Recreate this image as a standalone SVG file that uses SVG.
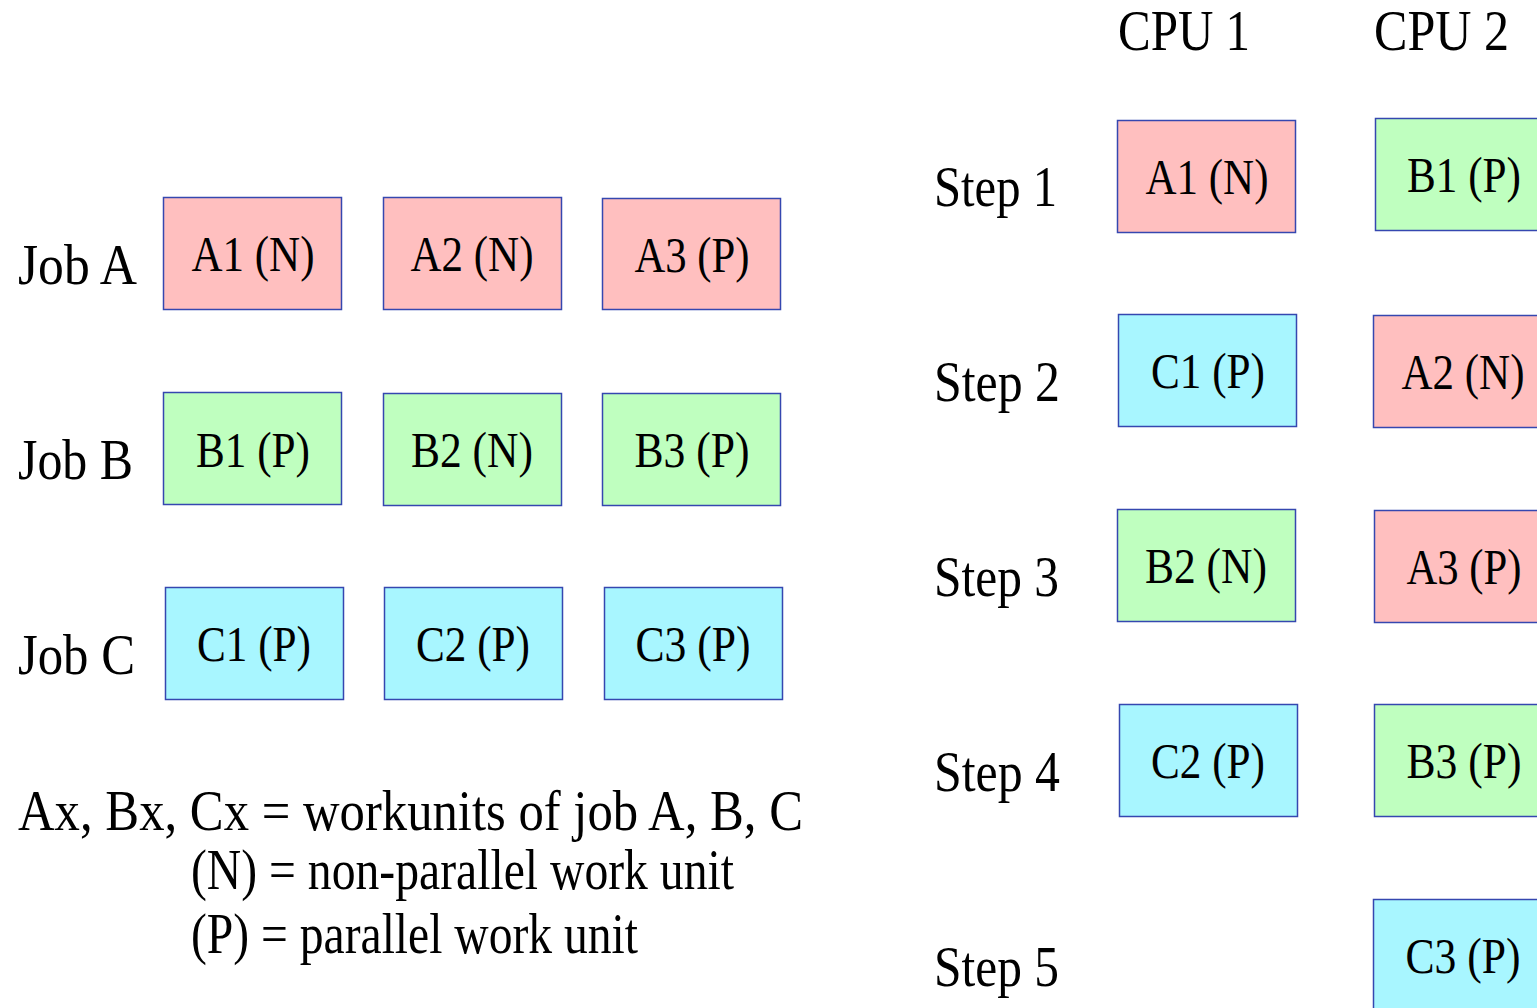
<svg xmlns="http://www.w3.org/2000/svg" width="1537" height="1008" viewBox="0 0 1537 1008">
<style>
.b{stroke:#3547b0;stroke-width:1.5}
.n{fill:#ffbfbf}.g{fill:#bfffbf}.c{fill:#a8f6ff}
text{font-family:"Liberation Serif","Times New Roman",serif;fill:#000}
.l{font-size:51px;text-anchor:middle}
.h{font-size:56px}
</style>
<rect width="1537" height="1008" fill="#fff"/>
<g id="labels">
<text class="h" x="18" y="284" textLength="119" lengthAdjust="spacingAndGlyphs">Job A</text>
<text class="h" x="18" y="479" textLength="115" lengthAdjust="spacingAndGlyphs">Job B</text>
<text class="h" x="18" y="674" textLength="117" lengthAdjust="spacingAndGlyphs">Job C</text>
<text class="h" x="1118" y="50" textLength="132" lengthAdjust="spacingAndGlyphs">CPU 1</text>
<text class="h" x="1374" y="50" textLength="135" lengthAdjust="spacingAndGlyphs">CPU 2</text>
<text class="h" x="934" y="206" textLength="123" lengthAdjust="spacingAndGlyphs">Step 1</text>
<text class="h" x="934" y="401" textLength="126" lengthAdjust="spacingAndGlyphs">Step 2</text>
<text class="h" x="934" y="596" textLength="125" lengthAdjust="spacingAndGlyphs">Step 3</text>
<text class="h" x="934" y="791" textLength="126" lengthAdjust="spacingAndGlyphs">Step 4</text>
<text class="h" x="934" y="986" textLength="125" lengthAdjust="spacingAndGlyphs">Step 5</text>
<text class="h" x="18" y="830" textLength="785" lengthAdjust="spacingAndGlyphs">Ax, Bx, Cx = workunits of job A, B, C</text>
<text class="h" x="191" y="889" textLength="543" lengthAdjust="spacingAndGlyphs">(N) = non-parallel work unit</text>
<text class="h" x="191" y="953" textLength="447" lengthAdjust="spacingAndGlyphs">(P) = parallel work unit</text>
</g>
<g id="jobA1"><rect class="b n" x="163.5" y="197.5" width="178" height="112"/><text class="l" x="253" y="271" textLength="123" lengthAdjust="spacingAndGlyphs">A1 (N)</text></g>
<g id="jobA2"><rect class="b n" x="383.5" y="197.5" width="178" height="112"/><text class="l" x="472" y="271" textLength="123" lengthAdjust="spacingAndGlyphs">A2 (N)</text></g>
<g id="jobA3"><rect class="b n" x="602.5" y="198.5" width="178" height="111"/><text class="l" x="692" y="272" textLength="115" lengthAdjust="spacingAndGlyphs">A3 (P)</text></g>
<g id="jobB1"><rect class="b g" x="163.5" y="392.5" width="178" height="112"/><text class="l" x="253" y="467" textLength="114" lengthAdjust="spacingAndGlyphs">B1 (P)</text></g>
<g id="jobB2"><rect class="b g" x="383.5" y="393.5" width="178" height="112"/><text class="l" x="472" y="467" textLength="122" lengthAdjust="spacingAndGlyphs">B2 (N)</text></g>
<g id="jobB3"><rect class="b g" x="602.5" y="393.5" width="178" height="112"/><text class="l" x="692" y="467" textLength="115" lengthAdjust="spacingAndGlyphs">B3 (P)</text></g>
<g id="jobC1"><rect class="b c" x="165.5" y="587.5" width="178" height="112"/><text class="l" x="254" y="661" textLength="114" lengthAdjust="spacingAndGlyphs">C1 (P)</text></g>
<g id="jobC2"><rect class="b c" x="384.5" y="587.5" width="178" height="112"/><text class="l" x="473" y="661" textLength="114" lengthAdjust="spacingAndGlyphs">C2 (P)</text></g>
<g id="jobC3"><rect class="b c" x="604.5" y="587.5" width="178" height="112"/><text class="l" x="693" y="661" textLength="115" lengthAdjust="spacingAndGlyphs">C3 (P)</text></g>
<g id="s1c1"><rect class="b n" x="1117.5" y="120.5" width="178" height="112"/><text class="l" x="1207" y="194" textLength="123" lengthAdjust="spacingAndGlyphs">A1 (N)</text></g>
<g id="s1c2"><rect class="b g" x="1375.5" y="118.5" width="178" height="112"/><text class="l" x="1464" y="192" textLength="114" lengthAdjust="spacingAndGlyphs">B1 (P)</text></g>
<g id="s2c1"><rect class="b c" x="1118.5" y="314.5" width="178" height="112"/><text class="l" x="1208" y="388" textLength="114" lengthAdjust="spacingAndGlyphs">C1 (P)</text></g>
<g id="s2c2"><rect class="b n" x="1373.5" y="315.5" width="178" height="112"/><text class="l" x="1463" y="389" textLength="123" lengthAdjust="spacingAndGlyphs">A2 (N)</text></g>
<g id="s3c1"><rect class="b g" x="1117.5" y="509.5" width="178" height="112"/><text class="l" x="1206" y="583" textLength="122" lengthAdjust="spacingAndGlyphs">B2 (N)</text></g>
<g id="s3c2"><rect class="b n" x="1374.5" y="510.5" width="178" height="112"/><text class="l" x="1464" y="584" textLength="115" lengthAdjust="spacingAndGlyphs">A3 (P)</text></g>
<g id="s4c1"><rect class="b c" x="1119.5" y="704.5" width="178" height="112"/><text class="l" x="1208" y="778" textLength="114" lengthAdjust="spacingAndGlyphs">C2 (P)</text></g>
<g id="s4c2"><rect class="b g" x="1374.5" y="704.5" width="178" height="112"/><text class="l" x="1464" y="778" textLength="115" lengthAdjust="spacingAndGlyphs">B3 (P)</text></g>
<g id="s5c2"><rect class="b c" x="1373.5" y="899.5" width="178" height="112"/><text class="l" x="1463" y="973" textLength="115" lengthAdjust="spacingAndGlyphs">C3 (P)</text></g>
<g id="connectors"></g>
</svg>
